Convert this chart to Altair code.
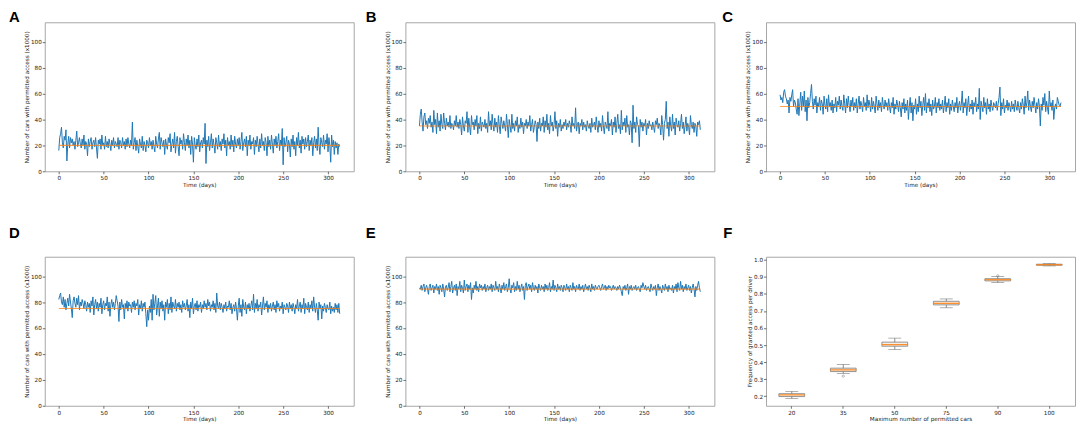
import altair as alt
import pandas as pd

# ---------------- data ----------------
series_A = [
    16, 26, 29, 34, 22, 18, 27, 24, 32, 8, 21, 27, 18, 26, 22, 25, 20, 23, 17, 24,
    31, 19, 22, 26, 21, 18, 25, 20, 28, 17, 23, 21, 12, 25, 19, 23, 26, 17, 22, 24,
    19, 26, 18, 10, 24, 21, 25, 17, 28, 20, 22, 17, 27, 19, 23, 18, 25, 21, 16, 24,
    20, 26, 18, 23, 21, 19, 26, 17, 24, 22, 18, 26, 20, 23, 17, 25, 19, 26, 21, 18,
    24, 20, 38, 17, 22, 26, 16, 24, 19, 14, 25, 21, 18, 27, 16, 23, 20, 15, 24, 22,
    18, 26, 20, 23, 17, 24, 19, 15, 27, 21, 18, 25, 30, 17, 26, 22, 19, 24, 13, 25,
    20, 17, 26, 22, 29, 15, 21, 25, 18, 30, 14, 23, 27, 19, 12, 26, 21, 24, 17, 29,
    22, 16, 25, 20, 28, 18, 24, 13, 27, 21, 7, 26, 20, 17, 25, 19, 28, 15, 22, 24,
    18, 26, 21, 37, 6, 24, 19, 27, 16, 22, 29, 18, 25, 20, 14, 26, 22, 17, 28, 19,
    23, 16, 25, 21, 29, 18, 24, 12, 26, 20, 23, 17, 28, 19, 24, 15, 27, 21, 18, 25,
    20, 26, 17, 23, 30, 16, 22, 25, 19, 27, 12, 24, 20, 28, 17, 23, 21, 26, 13, 24,
    19, 27, 21, 15, 25, 18, 29, 20, 23, 16, 26, 22, 12, 27, 19, 24, 17, 28, 21, 14,
    25, 20, 27, 18, 23, 29, 16, 24, 20, 33, 5, 26, 19, 22, 27, 15, 24, 21, 11, 25,
    19, 28, 17, 23, 12, 26, 20, 30, 18, 24, 14, 27, 21, 25, 17, 26, 19, 23, 28, 16,
    24, 20, 26, 12, 22, 27, 18, 25, 16, 34, 20, 13, 26, 22, 19, 28, 17, 24, 21, 29,
    15, 26, 20, 7, 28, 19, 24, 13, 23, 18, 22, 13, 21, 19,
]
series_B = [
    35, 44, 48, 38, 31, 42, 45, 36, 39, 33, 41, 37, 43, 34, 38, 30, 47, 36, 40, 29,
    45, 34, 39, 31, 44, 36, 33, 45, 37, 32, 41, 35, 38, 34, 43, 33, 37, 36, 32, 39,
    35, 43, 34, 38, 33, 40, 36, 28, 42, 35, 31, 39, 37, 46, 30, 41, 34, 28, 43, 36,
    38, 32, 40, 35, 43, 29, 37, 33, 42, 31, 38, 36, 34, 40, 33, 37, 30, 46, 35, 39,
    32, 44, 36, 31, 41, 34, 38, 30, 43, 35, 29, 42, 37, 33, 39, 35, 31, 44, 36, 26,
    40, 35, 30, 44, 33, 37, 31, 39, 35, 42, 30, 36, 33, 41, 34, 38, 29, 37, 35, 40,
    33, 38, 35, 43, 31, 36, 40, 30, 34, 39, 36, 23, 38, 33, 41, 31, 37, 35, 42, 30,
    39, 34, 44, 32, 37, 29, 43, 35, 38, 31, 36, 46, 33, 39, 27, 37, 34, 40, 31, 36,
    33, 38, 35, 40, 32, 37, 34, 39, 36, 30, 42, 35, 37, 33, 49, 31, 36, 38, 29, 37,
    35, 40, 32, 38, 34, 36, 31, 39, 35, 33, 37, 30, 41, 34, 36, 38, 32, 42, 35, 30,
    39, 34, 37, 31, 43, 35, 29, 38, 36, 33, 46, 31, 37, 35, 40, 28, 38, 34, 42, 30,
    37, 44, 33, 36, 29, 47, 32, 38, 35, 41, 30, 43, 34, 36, 28, 39, 37, 22, 51, 33,
    38, 30, 42, 36, 35, 19, 40, 34, 38, 31, 37, 35, 40, 28, 37, 33, 39, 35, 36, 32,
    38, 34, 30, 39, 36, 41, 33, 37, 35, 28, 43, 36, 24, 37, 40, 54, 33, 38, 27, 42,
    35, 31, 44, 33, 38, 28, 41, 36, 34, 39, 31, 37, 44, 33, 38, 29, 35, 42, 31, 37,
    34, 28, 43, 36, 33, 38, 30, 37, 35, 27, 38, 36, 39, 32,
]
series_C = [
    59, 55, 57, 53, 61, 63, 58, 56, 52, 55, 45, 57, 54, 59, 63, 50, 55, 53, 48, 44,
    56, 43, 52, 61, 47, 58, 50, 62, 46, 55, 39, 57, 49, 53, 60, 67, 54, 48, 56, 51,
    58, 45, 53, 50, 57, 47, 55, 52, 44, 58, 51, 48, 56, 46, 59, 50, 53, 47, 55, 45,
    52, 49, 57, 46, 54, 51, 58, 48, 55, 50, 47, 59, 52, 45, 56, 49, 58, 51, 46, 55,
    50, 57, 47, 53, 49, 56, 45, 52, 58, 48, 54, 51, 46, 57, 50, 53, 47, 59, 49, 55,
    51, 46, 57, 48, 54, 50, 45, 58, 52, 47, 55, 49, 53, 46, 57, 51, 48, 55, 50, 53,
    47, 56, 50, 45, 53, 49, 57, 44, 52, 48, 55, 51, 46, 54, 49, 42, 53, 48, 56, 45,
    52, 47, 55, 40, 50, 57, 45, 53, 39, 51, 48, 56, 44, 52, 46, 58, 49, 54, 43, 51,
    57, 47, 60, 45, 53, 49, 56, 46, 52, 43, 55, 48, 50, 57, 45, 53, 49, 56, 47, 52,
    48, 55, 45, 51, 58, 46, 53, 49, 56, 44, 52, 47, 55, 50, 46, 53, 49, 57, 45, 51,
    54, 47, 52, 62, 45, 53, 49, 56, 43, 51, 58, 46, 52, 48, 55, 44, 53, 50, 57, 46,
    52, 48, 64, 40, 54, 50, 46, 57, 49, 53, 44, 56, 48, 52, 46, 55, 50, 47, 53, 51,
    49, 54, 47, 52, 57, 65, 43, 53, 48, 56, 45, 51, 49, 55, 47, 53, 50, 46, 54, 48,
    52, 46, 55, 50, 47, 54, 49, 45, 53, 48, 56, 51, 44, 58, 49, 53, 62, 47, 55, 50,
    46, 54, 49, 57, 51, 45, 53, 48, 56, 50, 35, 52, 47, 57, 51, 60, 46, 54, 49, 44,
    62, 50, 53, 47, 55, 40, 49, 52, 48, 57, 54, 51, 50, 53,
]
series_D = [
    82, 85, 87, 80, 78, 84, 76, 82, 74, 79, 83, 77, 86, 80, 75, 68, 81, 84, 79, 76,
    83, 78, 85, 74, 80, 77, 82, 79, 75, 81, 78, 73, 80, 76, 79, 72, 81, 77, 84, 70,
    78, 82, 75, 80, 73, 79, 76, 83, 71, 78, 81, 74, 79, 77, 84, 73, 80, 69, 78, 82,
    76, 80, 74, 79, 85, 81, 77, 65, 80, 74, 82, 76, 78, 67, 79, 75, 81, 73, 80, 77,
    78, 72, 80, 76, 81, 74, 79, 77, 82, 70, 78, 75, 81, 73, 79, 76, 80, 71, 61, 74,
    66, 77, 72, 82, 66, 86, 74, 79, 85, 70, 77, 83, 69, 80, 75, 81, 73, 78, 66, 80,
    76, 82, 71, 79, 74, 84, 72, 80, 77, 75, 82, 73, 79, 76, 80, 74, 78, 72, 81, 76,
    79, 74, 77, 82, 73, 78, 68, 80, 75, 83, 71, 77, 79, 74, 81, 73, 78, 76, 80, 72,
    78, 75, 81, 76, 79, 74, 82, 77, 80, 73, 78, 76, 81, 74, 79, 72, 87, 77, 75, 80,
    74, 79, 76, 72, 78, 75, 80, 73, 77, 76, 81, 74, 79, 71, 76, 78, 73, 80, 75, 66,
    77, 83, 72, 78, 69, 82, 76, 74, 80, 71, 78, 75, 79, 73, 77, 81, 74, 86, 72, 79,
    75, 82, 73, 78, 76, 80, 70, 77, 84, 74, 79, 76, 81, 72, 78, 75, 79, 73, 77, 80,
    74, 78, 72, 81, 76, 79, 73, 77, 75, 80, 71, 78, 76, 74, 79, 77, 72, 80, 75, 78,
    73, 79, 76, 71, 78, 75, 82, 73, 77, 80, 72, 78, 75, 83, 71, 79, 76, 74, 80, 72,
    78, 75, 81, 73, 84, 76, 72, 79, 74, 66, 80, 75, 78, 67, 77, 73, 79, 76, 72, 78,
    75, 74, 80, 71, 77, 73, 76, 72, 79, 74, 78, 72, 79, 71,
]
series_E = [
    91, 90, 93, 89, 92, 94, 88, 91, 93, 90, 86, 92, 94, 89, 91, 93, 87, 92, 90, 94,
    89, 92, 86, 93, 91, 88, 94, 90, 84, 92, 93, 89, 91, 95, 88, 92, 96, 87, 91, 93,
    89, 94, 85, 92, 90, 96, 88, 93, 91, 87, 97, 89, 92, 94, 88, 93, 90, 95, 82, 91,
    87, 93, 90, 96, 89, 92, 88, 94, 91, 93, 89, 92, 90, 94, 88, 91, 93, 89, 92, 90,
    94, 88, 93, 91, 89, 96, 90, 92, 88, 94, 91, 87, 93, 90, 95, 89, 92, 94, 88, 91,
    98, 90, 87, 93, 91, 95, 88, 92, 89, 96, 90, 93, 88, 91, 94, 89, 92, 82, 93, 95,
    89, 92, 94, 90, 93, 88, 95, 91, 89, 93, 90, 92, 87, 94, 91, 89, 93, 90, 92, 88,
    94, 90, 93, 89, 91, 95, 88, 92, 90, 97, 89, 93, 91, 88, 94, 90, 92, 89, 93, 91,
    88, 93, 91, 89, 94, 90, 92, 88, 93, 91, 89, 95, 90, 92, 88, 93, 91, 90, 94, 89,
    92, 90, 93, 88, 91, 94, 90, 92, 89, 93, 91, 88, 94, 90, 92, 89, 93, 91, 90, 92,
    93, 91, 89, 92, 94, 90, 91, 93, 89, 92, 90, 93, 91, 92, 89, 91, 93, 90, 92, 91,
    89, 92, 90, 93, 91, 88, 85, 92, 90, 93, 89, 91, 94, 86, 92, 90, 93, 89, 91, 92,
    90, 93, 89, 91, 92, 90, 88, 93, 91, 95, 92, 90, 93, 89, 91, 92, 90, 88, 94, 91,
    89, 92, 90, 93, 85, 91, 94, 89, 92, 90, 87, 93, 91, 89, 94, 90, 92, 88, 93, 90,
    91, 89, 93, 87, 92, 90, 94, 88, 95, 91, 89, 96, 90, 93, 88, 92, 90, 94, 89, 91,
    93, 89, 92, 87, 91, 94, 90, 84, 92, 89, 93, 96, 91, 88,
]
series_means = [20, 35, 50, 75, 90]
panel_letters = ["A", "B", "C", "D", "E", "F"]
time_ticks = [0, 50, 100, 150, 200, 250, 300]
count_ticks = [0, 20, 40, 60, 80, 100]

# panel F (box plot statistics)
f_cats = ["20", "35", "50", "75", "90", "100"]
f_whisk_lo = [0.186, 0.333, 0.474, 0.719, 0.868, 0.965]
f_q1 = [0.197, 0.344, 0.493, 0.736, 0.877, 0.969]
f_median = [0.207, 0.354, 0.502, 0.745, 0.884, 0.972]
f_q3 = [0.214, 0.364, 0.517, 0.757, 0.890, 0.975]
f_whisk_hi = [0.227, 0.385, 0.540, 0.771, 0.903, 0.979]
f_out_cat = ["35", "90"]
f_out_val = [0.317, 0.907]
freq_ticks = [0.2, 0.3, 0.4, 0.5, 0.6, 0.7, 0.8, 0.9, 1.0]

# ---------------- styling ----------------
BLUE = "#1f77b4"
ORANGE = "#ff7f0e"
W, H = 311, 150
LFONT = "DejaVu Sans"
LSIZE = 5.7


def letter_title(letter, dx, offset, dy):
    return alt.TitleParams(
        text=letter, anchor="start", frame="group", dx=dx, dy=dy, offset=offset,
        baseline="alphabetic", font="Liberation Sans", fontSize=15,
        fontWeight="bold", color="#000000",
    )


def ts_panel(vals, mean, letter, dx, offset, dy):
    df = pd.DataFrame({"day": list(range(len(vals))), "value": vals})
    mdf = pd.DataFrame({"start": [0], "end": [len(vals) - 1], "mean": [mean]})
    xscale = alt.Scale(domain=[-15.65, 328.65], nice=False, zero=False)
    yscale = alt.Scale(domain=[0, 115], nice=False)
    xaxis = alt.Axis(values=time_ticks, title="Time (days)")
    yaxis = alt.Axis(values=count_ticks,
                     title="Number of cars with permitted access (x1000)")
    line = alt.Chart(df).mark_line(color=BLUE, strokeWidth=1).encode(
        x=alt.X("day:Q", scale=xscale, axis=xaxis),
        y=alt.Y("value:Q", scale=yscale, axis=yaxis),
    )
    rule = alt.Chart(mdf).mark_rule(color=ORANGE, strokeWidth=1.1, opacity=0.75).encode(
        x=alt.X("start:Q", scale=xscale, axis=xaxis),
        x2="end:Q",
        y=alt.Y("mean:Q", scale=yscale, axis=yaxis),
    )
    return alt.layer(line, rule).properties(
        width=W, height=H, title=letter_title(letter, dx, offset, dy))


def box_panel(letter, dx, offset, dy):
    bdf = pd.DataFrame({
        "cat": f_cats, "lo": f_whisk_lo, "q1": f_q1, "med": f_median,
        "q3": f_q3, "hi": f_whisk_hi,
    })
    odf = pd.DataFrame({"cat": f_out_cat, "val": f_out_val})
    xscale = alt.Scale(domain=f_cats, paddingInner=0.5, paddingOuter=0.25)
    yscale = alt.Scale(domain=[0.143, 1.019], nice=False, zero=False)
    xaxis = alt.Axis(labelAngle=0, title="Maximum number of permitted cars")
    yaxis = alt.Axis(values=freq_ticks, format=".1f",
                     title="Frequency of granted access per driver")
    X = alt.X("cat:N", sort=f_cats, scale=xscale, axis=xaxis)
    base = alt.Chart(bdf)
    whisk = base.mark_rule(color="#6f6f6f", strokeWidth=0.8).encode(
        x=X, y=alt.Y("lo:Q", scale=yscale, axis=yaxis), y2="hi:Q")
    cap_lo = base.mark_tick(color="#6f6f6f", size=13, thickness=0.8).encode(
        x=X, y=alt.Y("lo:Q", scale=yscale, axis=yaxis))
    cap_hi = base.mark_tick(color="#6f6f6f", size=13, thickness=0.8).encode(
        x=X, y=alt.Y("hi:Q", scale=yscale, axis=yaxis))
    box = base.mark_bar(fill="#f7efe6", stroke="#7a7a7a", strokeWidth=0.8).encode(
        x=X, y=alt.Y("q1:Q", scale=yscale, axis=yaxis), y2="q3:Q")
    med = base.mark_tick(color=ORANGE, size=26, thickness=1.3, opacity=0.85).encode(
        x=X, y=alt.Y("med:Q", scale=yscale, axis=yaxis))
    outl = alt.Chart(odf).mark_point(shape="circle", size=5, filled=False,
                                     color="#6f6f6f", strokeWidth=0.7).encode(
        x=X, y=alt.Y("val:Q", scale=yscale, axis=yaxis))
    return alt.layer(whisk, cap_lo, cap_hi, box, med, outl).properties(
        width=W, height=H, title=letter_title(letter, dx, offset, dy))


pA = ts_panel(series_A, series_means[0], panel_letters[0], -36, 1, 16)
pB = ts_panel(series_B, series_means[1], panel_letters[1], -40, 1, 16)
pC = ts_panel(series_C, series_means[2], panel_letters[2], -44, 1, 16)
pD = ts_panel(series_D, series_means[3], panel_letters[3], -36, 19, 15)
pE = ts_panel(series_E, series_means[4], panel_letters[4], -40, 19, 15)
pF = box_panel(panel_letters[5], -43, 19, 15)

chart = alt.concat(
    pA, pB, pC, pD, pE, pF, columns=3,
    spacing={"row": 86, "column": 52}, bounds="flush",
).properties(
    padding={"left": 0, "top": 0, "right": 0, "bottom": 0},
    background="white",
).configure_view(
    stroke="#a6a6a6", strokeWidth=1,
).configure_axis(
    domain=False, grid=False,
    labelFont=LFONT, labelFontSize=LSIZE, labelColor="#222222",
    titleFont=LFONT, titleFontSize=LSIZE, titleFontWeight="normal",
    titleColor="#222222",
    tickSize=2.5, tickColor="#333333", tickWidth=0.7,
    labelPadding=1, titlePadding=1,
)

chart.save("out.html", embed_options={"renderer": "svg", "actions": False})
